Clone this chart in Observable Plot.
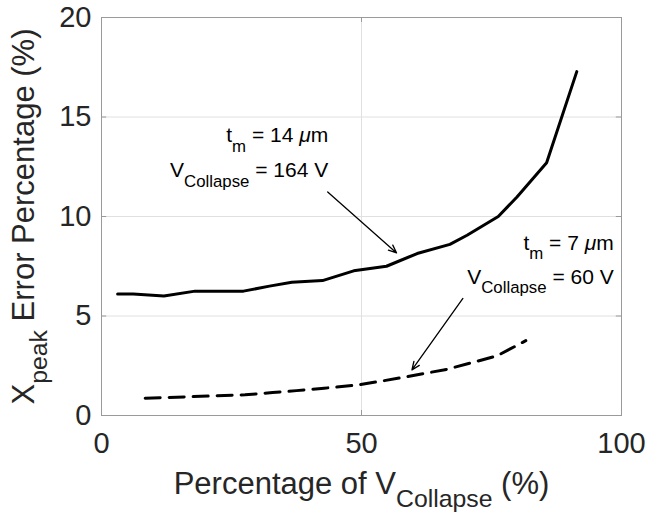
<!DOCTYPE html>
<html>
<head>
<meta charset="utf-8">
<script src="https://cdn.jsdelivr.net/npm/d3@7"></script>
<script src="https://cdn.jsdelivr.net/npm/@observablehq/plot@0.6"></script>
<style>
  html, body { margin: 0; padding: 0; background: #ffffff; }
  #chart { width: 648px; height: 514px; }
</style>
</head>
<body>
<div id="chart"></div>
<script>
// ---- data ----
const xTicks = [0, 50, 100];
const yTicks = [0, 5, 10, 15, 20];

// t_m = 14 µm (solid)
const solidX = [3.1, 6.1, 12.0, 18.0, 27.3, 32.3, 36.6, 42.5, 48.5, 54.8, 60.7, 67.0, 70.3, 76.3, 79.9, 85.6, 91.4];
const solidY = [6.1, 6.1, 6.0, 6.25, 6.25, 6.5, 6.7, 6.78, 7.27, 7.5, 8.14, 8.6, 9.06, 10.0, 10.98, 12.7, 17.28];

// t_m = 7 µm (dashed)
const dashedX = [8.4, 17.7, 27.6, 32.9, 37.5, 42.8, 49.5, 54.1, 58.7, 66.4, 76.0, 81.6];
const dashedY = [0.87, 0.95, 1.04, 1.15, 1.25, 1.37, 1.54, 1.74, 1.95, 2.32, 2.99, 3.76];

// annotations
const noteText = ["t_{m} = 14 μm", "V_{Collapse} = 164 V", "t_{m} = 7 μm", "V_{Collapse} = 60 V"];
const noteX = [43.6, 43.6, 98.5, 98.5];
const noteY = [13.72, 11.96, 8.34, 6.63];

const arrowX1 = [43.5, 69.5];
const arrowY1 = [11.23, 5.88];
const arrowX2 = [56.75, 59.7];
const arrowY2 = [8.17, 2.29];

const xLabel = "Percentage of V_{Collapse} (%)";
const yLabel = "X_{peak} Error Percentage (%)";

// ---- tables built from the arrays ----
const solid = solidX.map((x, i) => ({x, y: solidY[i]}));
const dashed = dashedX.map((x, i) => ({x, y: dashedY[i]}));
const notes = noteText.map((t, i) => ({t, x: noteX[i], y: noteY[i]}));
const arrows = arrowX1.map((x1, i) => ({x1, y1: arrowY1[i], x2: arrowX2[i], y2: arrowY2[i]}));

const FRAME = "#9a9a9a";
const GRID = "#e0e0e0";

const svg = Plot.plot({
  width: 648,
  height: 514,
  marginLeft: 101,
  marginRight: 27,
  marginTop: 17,
  marginBottom: 99,
  x: {domain: [0, 100]},
  y: {domain: [0, 20]},
  style: {fontFamily: "'Liberation Sans', Arial, sans-serif", color: "#262626", background: "#ffffff"},
  marks: [
    Plot.gridX(xTicks, {stroke: GRID, strokeOpacity: 1}),
    Plot.gridY(yTicks, {stroke: GRID, strokeOpacity: 1}),
    // inward tick marks on all four sides
    Plot.ruleX(xTicks, {x: d => d, y1: 0, y2: 0.25, stroke: FRAME}),
    Plot.ruleX(xTicks, {x: d => d, y1: 20, y2: 19.75, stroke: FRAME}),
    Plot.ruleY(yTicks, {y: d => d, x1: 0, x2: 1, stroke: FRAME}),
    Plot.ruleY(yTicks, {y: d => d, x1: 100, x2: 99, stroke: FRAME}),
    Plot.frame({stroke: FRAME}),
    Plot.axisX({ticks: xTicks, anchor: "bottom", tickSize: 0, tickPadding: 17, fontSize: 29, label: null}),
    Plot.axisY({ticks: yTicks, anchor: "left", tickSize: 0, tickPadding: 10, fontSize: 29, label: null}),
    Plot.line(solid, {x: "x", y: "y", stroke: "black", strokeWidth: 3, strokeLinejoin: "round"}),
    Plot.line(dashed, {x: "x", y: "y", stroke: "black", strokeWidth: 3, strokeDasharray: "15,9"}),
    Plot.arrow(arrows, {x1: "x1", y1: "y1", x2: "x2", y2: "y2", stroke: "black", strokeWidth: 1.3, headLength: 10, headAngle: 45}),
    Plot.text(notes, {x: "x", y: "y", text: "t", textAnchor: "end", lineAnchor: "bottom", fontSize: 21, fill: "black"}),
    Plot.text([xLabel], {frameAnchor: "bottom", dy: 78, textAnchor: "middle", lineAnchor: "bottom", fontSize: 31, fill: "#262626"}),
    Plot.text([yLabel], {frameAnchor: "left", dx: -68, rotate: -90, textAnchor: "middle", lineAnchor: "bottom", fontSize: 31, fill: "#262626"})
  ]
});

document.getElementById("chart").appendChild(svg);

// ---- render _{...} as subscripts and μ in italics, as real text ----
const NS = "http://www.w3.org/2000/svg";
d3.select(svg).selectAll("text").each(function() {
  const el = this;
  const s = el.textContent;
  if (!/_\{|μ/.test(s)) return;
  const fs = parseFloat(getComputedStyle(el).fontSize) || 16;
  const subSize = fs * 0.8;
  const shift = fs * 0.45;
  const parts = s.split(/(_\{[^}]*\}|μ)/).filter(p => p !== "");
  el.textContent = "";
  let shifted = false;
  for (const p of parts) {
    const ts = document.createElementNS(NS, "tspan");
    if (p.startsWith("_{")) {
      ts.textContent = p.slice(2, -1);
      ts.setAttribute("font-size", subSize);
      if (!shifted) { ts.setAttribute("dy", shift); shifted = true; }
    } else {
      ts.textContent = p;
      if (p === "μ") ts.setAttribute("font-style", "italic");
      if (shifted) { ts.setAttribute("dy", -shift); shifted = false; }
    }
    el.appendChild(ts);
  }
});
</script>
</body>
</html>
